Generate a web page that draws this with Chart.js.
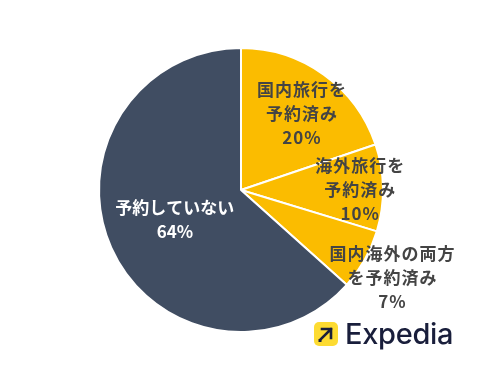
<!DOCTYPE html>
<html lang="ja">
<head>
<meta charset="UTF-8">
<title>予約状況</title>
<script src="https://cdn.jsdelivr.net/npm/chart.js"></script>
<style>
    body {
        margin: 0;
        background: #ffffff;
        font-family: "Noto Sans CJK JP", "Noto Sans", sans-serif;
    }
    .wrap {
        position: relative;
        width: 500px;
        height: 380px;
    }
    .logo {
        position: absolute;
        left: 314px;
        top: 316px;
        display: flex;
        align-items: center;
    }
    .logo .mark {
        width: 24px;
        height: 24px;
        margin-right: 7px;
    }
    .logo .name {
        font-family: Inter, "Noto Sans", sans-serif;
        font-size: 29px;
        font-weight: 500;
        color: #191e3b;
        letter-spacing: -0.3px;
    }
</style>
</head>
<body>
<div class="wrap">
    <canvas id="pie" width="500" height="380"></canvas>
    <div class="logo">
        <svg class="mark" viewBox="0 0 24 24">
            <rect x="0" y="0" width="24" height="24" rx="5" fill="#fddb32"/>
            <path d="M8 7 H17 V16 M17 7 L7 17" stroke="#191e3b" stroke-width="2.6" fill="none" stroke-linecap="square"/>
            <rect x="4.5" y="17" width="3" height="3" fill="#191e3b"/>
        </svg>
        <span class="name">Expedia</span>
    </div>
</div>

<script>
    // data
    const labels = [
        ["国内旅行を", "予約済み"],
        ["海外旅行を", "予約済み"],
        ["国内海外の両方", "を予約済み"],
        ["予約していない"]
    ];
    const values = [20, 10, 7, 64];
    const colors = ["#fbbc00", "#fbbc00", "#fbbc00", "#404d62"];
    const textColors = ["#444444", "#444444", "#444444", "#ffffff"];

    // label placement: radius factor and angle nudge (deg) per slice
    const labelRadius = [0.69, 0.84, 1.23, 0.51];
    const labelNudge = [2.8, 0.9, 0.5, 0];

    const sliceLabels = {
        id: 'sliceLabels',
        afterDatasetsDraw(chart) {
            const ctx = chart.ctx;
            const meta = chart.getDatasetMeta(0);
            meta.data.forEach((arc, i) => {
                const mid = (arc.startAngle + arc.endAngle) / 2 + labelNudge[i] * Math.PI / 180;
                const r = arc.outerRadius * labelRadius[i];
                const x = arc.x + Math.cos(mid) * r;
                const y = arc.y + Math.sin(mid) * r;
                const lines = labels[i].concat([values[i] + "%"]);
                const lh = 24;
                ctx.save();
                ctx.fillStyle = textColors[i];
                ctx.textAlign = 'center';
                ctx.textBaseline = 'middle';
                ctx.font = 'bold 17px "Noto Sans CJK JP"';
                ctx.letterSpacing = i < 3 ? '1px' : '0px';
                lines.forEach((t, k) => {
                    ctx.fillText(t, x, y + (k - (lines.length - 1) / 2) * lh);
                });
                ctx.restore();
            });
        }
    };

    new Chart(document.getElementById('pie'), {
        type: 'pie',
        data: {
            labels: labels.map(l => l.join('')),
            datasets: [{
                data: values,
                backgroundColor: colors,
                borderColor: '#ffffff',
                borderWidth: 2
            }]
        },
        options: {
            responsive: false,
            animation: false,
            layout: { padding: { left: 98, right: 116, top: 47, bottom: 47 } },
            plugins: {
                legend: { display: false },
                tooltip: { enabled: false }
            }
        },
        plugins: [sliceLabels]
    });
</script>
</body>
</html>
